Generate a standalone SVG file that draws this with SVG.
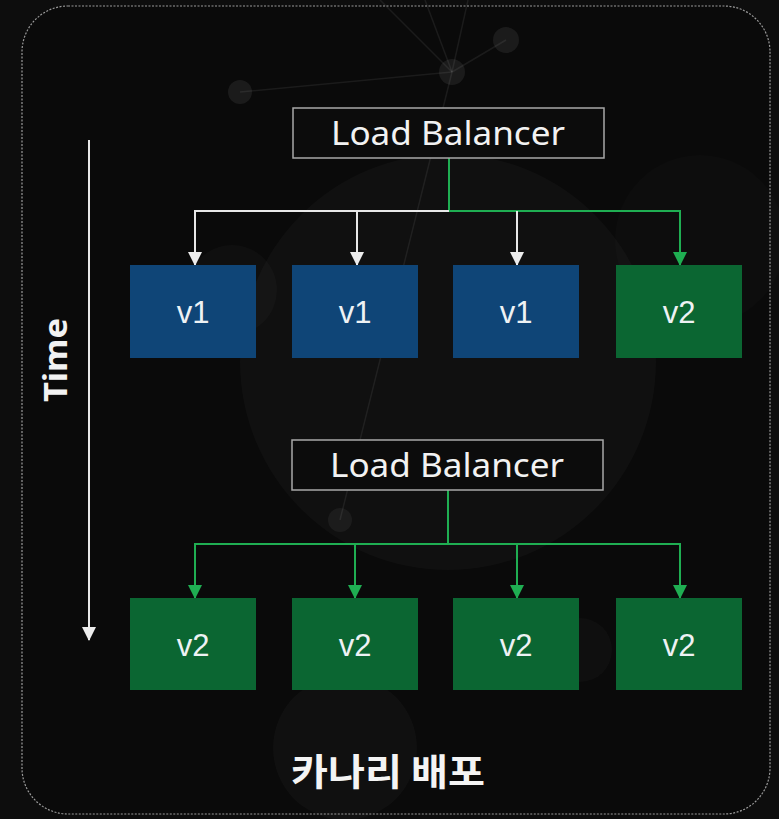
<svg xmlns="http://www.w3.org/2000/svg" width="779" height="819" viewBox="0 0 779 819">
  <style>
    .lb rect { fill: #0c0c0c; stroke: #a8a8a8; stroke-width: 1.5; }
    .lbt { font-family: "Noto Sans", "Open Sans", "Liberation Sans", sans-serif; font-size: 33px; fill: #f2f2f2; text-anchor: middle; }
    .vt { font-family: "Liberation Sans", Arial, sans-serif; font-size: 31px; fill: #eef2f4; text-anchor: middle; }
    .v1 rect { fill: #0f4577; }
    .v2 rect { fill: #0b6632; }
    .w { stroke: #e8e8e8; stroke-width: 2; fill: none; }
    .g { stroke: #1fae52; stroke-width: 2; fill: none; }
    .deco { fill: #ffffff; }
  </style>
  <defs>
    <marker id="ag" viewBox="0 0 14 14" refX="13" refY="7" markerWidth="14" markerHeight="14" orient="auto" markerUnits="userSpaceOnUse">
      <path d="M0,0 L14,7 L0,14 z" fill="#1fae52"/>
    </marker>
    <marker id="awb" viewBox="0 0 14 14" refX="13" refY="7" markerWidth="14" markerHeight="14" orient="auto" markerUnits="userSpaceOnUse">
      <path d="M0,0 L14,7 L0,14 z" fill="#ececec"/>
    </marker>
  </defs>

  <rect x="0" y="0" width="779" height="819" fill="#0d0d0d"/>
  <rect x="22" y="6" width="748" height="808" rx="46" ry="46" fill="#0a0a0a" stroke="#9a9a9a" stroke-width="1.2" stroke-dasharray="2 1.5"/>

  <!-- background decoration -->
  <g id="decoration">
    <circle cx="448" cy="362" r="208" class="deco" opacity="0.028"/>
    <circle cx="232" cy="290" r="45" class="deco" opacity="0.025"/>
    <circle cx="700" cy="240" r="85" class="deco" opacity="0.015"/>
    <circle cx="345" cy="748" r="72" class="deco" opacity="0.028"/>
    <circle cx="580" cy="650" r="32" class="deco" opacity="0.025"/>
    <circle cx="240" cy="92" r="12" class="deco" opacity="0.07"/>
    <circle cx="452" cy="72" r="13" class="deco" opacity="0.07"/>
    <circle cx="506" cy="40" r="13" class="deco" opacity="0.07"/>
    <circle cx="340" cy="520" r="12" class="deco" opacity="0.05"/>
    <g stroke="#ffffff" stroke-opacity="0.07" stroke-width="1.5" fill="none">
      <line x1="240" y1="92" x2="452" y2="72"/>
      <line x1="452" y1="72" x2="506" y2="40"/>
      <line x1="452" y1="72" x2="380" y2="0"/>
      <line x1="452" y1="72" x2="425" y2="0"/>
      <line x1="452" y1="72" x2="468" y2="0"/>
      <line x1="452" y1="72" x2="340" y2="520"/>
    </g>
  </g>

  <!-- connectors -->
  <g id="connectors">
    <line class="w" x1="89" y1="140" x2="89" y2="640" marker-end="url(#awb)"/>
    <line class="g" x1="449" y1="158" x2="449" y2="211"/>
    <line class="w" x1="195" y1="211" x2="449" y2="211"/>
    <line class="g" x1="449" y1="211" x2="680" y2="211"/>
    <line class="w" x1="195" y1="210" x2="195" y2="265" marker-end="url(#awb)"/>
    <line class="w" x1="357" y1="211" x2="357" y2="265" marker-end="url(#awb)"/>
    <line class="w" x1="517" y1="211" x2="517" y2="265" marker-end="url(#awb)"/>
    <line class="g" x1="680" y1="210" x2="680" y2="265" marker-end="url(#ag)"/>

    <line class="g" x1="448" y1="490" x2="448" y2="544"/>
    <line class="g" x1="195" y1="544" x2="680" y2="544"/>
    <line class="g" x1="195" y1="543" x2="195" y2="598" marker-end="url(#ag)"/>
    <line class="g" x1="355" y1="544" x2="355" y2="598" marker-end="url(#ag)"/>
    <line class="g" x1="517" y1="544" x2="517" y2="598" marker-end="url(#ag)"/>
    <line class="g" x1="680" y1="543" x2="680" y2="598" marker-end="url(#ag)"/>
  </g>

  <!-- nodes -->
  <g id="lb1" class="lb">
    <rect x="293" y="108" width="311" height="50"/>
    <text class="lbt" x="448" y="145" textLength="234" lengthAdjust="spacingAndGlyphs">Load Balancer</text>
  </g>
  <g id="n1a" class="v1"><rect x="130" y="265" width="126" height="93"/><text class="vt" x="193" y="323">v1</text></g>
  <g id="n1b" class="v1"><rect x="292" y="265" width="126" height="93"/><text class="vt" x="355" y="323">v1</text></g>
  <g id="n1c" class="v1"><rect x="453" y="265" width="126" height="93"/><text class="vt" x="516" y="323">v1</text></g>
  <g id="n1d" class="v2"><rect x="616" y="265" width="126" height="93"/><text class="vt" x="679" y="323">v2</text></g>

  <g id="lb2" class="lb">
    <rect x="292" y="440" width="311" height="50"/>
    <text class="lbt" x="447" y="477" textLength="234" lengthAdjust="spacingAndGlyphs">Load Balancer</text>
  </g>
  <g id="n2a" class="v2"><rect x="130" y="598" width="126" height="92"/><text class="vt" x="193" y="656">v2</text></g>
  <g id="n2b" class="v2"><rect x="292" y="598" width="126" height="92"/><text class="vt" x="355" y="656">v2</text></g>
  <g id="n2c" class="v2"><rect x="453" y="598" width="126" height="92"/><text class="vt" x="516" y="656">v2</text></g>
  <g id="n2d" class="v2"><rect x="616" y="598" width="126" height="92"/><text class="vt" x="679" y="656">v2</text></g>

  <g id="time-label">
    <text x="0" y="0" transform="translate(67,360) rotate(-90)" font-family="Noto Sans, Open Sans, Liberation Sans, sans-serif" font-size="32" font-weight="bold" fill="#f2f2f2" text-anchor="middle" textLength="84" lengthAdjust="spacingAndGlyphs">Time</text>
  </g>
  <g id="title">
    <text x="388" y="786" font-family="Noto Sans CJK KR, sans-serif" font-size="37" font-weight="bold" fill="#f4f4f4" text-anchor="middle" textLength="194" lengthAdjust="spacingAndGlyphs">카나리 배포</text>
  </g>
</svg>
